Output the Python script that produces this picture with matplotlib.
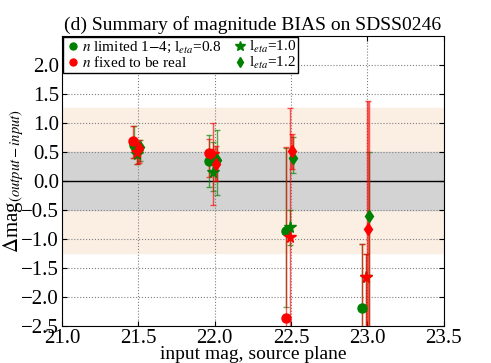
import numpy as np
import matplotlib
matplotlib.use("Agg")
import matplotlib.pyplot as plt
from matplotlib.lines import Line2D

plt.rcParams['font.family'] = ['Liberation Serif', 'DejaVu Serif']
plt.rcParams['mathtext.fontset'] = 'stix'

# input magnitudes (group centres 21.5, 22.0, 22.5, 23.0, small offsets per series)
x_circ_g = [21.47, 21.965, 22.47, 22.965]
x_circ_r = [21.465, 21.96, 22.465, 22.965]
x_star = [21.49, 21.99, 22.49, 22.99]
x_diam_g = [21.51, 22.015, 22.51, 23.01]
x_diam_r = [21.505, 22.01, 22.505, 23.005]

# green circle: n limited 1-4, l_eta=0.8
gc_y = [0.62, 0.34, -0.87, -2.19]
gc_lo = [0.22, 0.44, 1.30, 0.60]
gc_hi = [0.33, 0.45, 1.43, 1.10]
# red circle: n fixed, l_eta=0.8
rc_y = [0.69, 0.48, -2.37, -2.80]
rc_lo = [0.29, 0.41, 1.00, 0.50]
rc_hi = [0.25, 0.24, 2.96, 1.71]
# green star: l_eta=1.0
gs_y = [0.46, 0.16, -0.80, -1.66]
gs_lo = [0.16, 0.34, 0.30, 1.20]
gs_hi = [0.19, 0.52, 0.30, 0.40]
# red star
rs_y = [0.50, 0.46, -0.97, -1.66]
rs_lo = [0.20, 0.87, 2.00, 1.20]
rs_hi = [0.10, 0.54, 2.22, 0.40]
# green diamond: l_eta=1.2
gd_y = [0.58, 0.36, 0.39, -0.60]
gd_lo = [0.23, 0.60, 0.25, 2.00]
gd_hi = [0.13, 0.52, 0.37, 1.10]
# red diamond
rd_y = [0.56, 0.30, 0.51, -0.82]
rd_lo = [0.25, 0.30, 0.30, 2.00]
rd_hi = [0.15, 0.30, 0.30, 2.19]

fig = plt.figure(figsize=(4.91, 3.63), dpi=100)
ax = fig.add_axes([0.126, 0.102, 0.778, 0.799])

ax.axhspan(-1.25, 1.25, color='#fbefe4', zorder=0)
ax.axhspan(-0.5, 0.5, color='#d3d3d3', zorder=0)
ax.axhline(0, color='black', lw=1, zorder=1)

def eb(x, y, lo, hi, col, mk, ms, lw=1.0):
    ax.errorbar(x, y, yerr=[lo, hi], fmt='none', ecolor=col,
                elinewidth=lw, capsize=2, capthick=1, alpha=0.65, zorder=3)
    ax.plot(x, y, mk, color=col, mec=col, ms=ms, ls='none', zorder=4)

eb(x_circ_g, gc_y, gc_lo, gc_hi, 'green', 'o', 6.5)
eb(x_circ_r, rc_y, rc_lo, rc_hi, 'red', 'o', 6.5)
eb(x_star, gs_y, gs_lo, gs_hi, 'green', '*', 8.5)
eb(x_star, rs_y, rs_lo, rs_hi, 'red', '*', 8.5)
eb(x_diam_g, gd_y, gd_lo, gd_hi, 'green', 'd', 6.5)
eb(x_diam_r, rd_y, rd_lo, rd_hi, 'red', 'd', 6.5, lw=2.5)

ax.set_xlim(21.0, 23.5)
ax.set_ylim(-2.5, 2.5)
ax.set_xticks(np.arange(21.0, 23.51, 0.5))
ax.set_yticks(np.arange(-2.5, 2.01, 0.5))
ax.tick_params(direction='in', top=True, right=True, labelsize=15, pad=2)
ax.grid(True, ls=':', color='gray', lw=0.8)
ax.set_axisbelow(True)

ax.set_title('(d) Summary of magnitude BIAS on SDSS0246', fontsize=14, pad=4)
ax.set_xlabel('input mag, source plane', fontsize=14, labelpad=-1)
ax.set_ylabel(r'$\Delta$mag$_{(output-input)}$', fontsize=15)
ax.yaxis.set_label_coords(-0.095, 0.5)

handles = [
    Line2D([], [], marker='o', color='green', ls='none', ms=5),
    Line2D([], [], marker='o', color='red', ls='none', ms=5),
    Line2D([], [], marker='*', color='green', ls='none', ms=7),
    Line2D([], [], marker='d', color='green', ls='none', ms=5),
]
labels = [r'$n$ limited 1$-$4; l$_{eta}$=0.8', r'$n$ fixed to be real',
          r'l$_{eta}$=1.0', r'l$_{eta}$=1.2']
ax.legend(handles, labels, ncol=2, loc='upper left', fontsize=11,
          fancybox=False, edgecolor='black', framealpha=1,
          borderaxespad=0.05, handletextpad=0.1, columnspacing=0.7,
          labelspacing=0.0, borderpad=0.15, handlelength=1.0)

fig.savefig('out.png', dpi=100)
